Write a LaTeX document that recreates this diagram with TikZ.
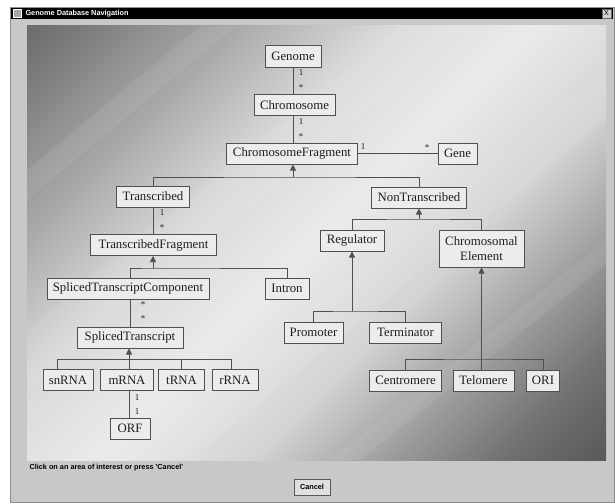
\documentclass[tikz,border=0pt]{standalone}
\usepackage{fontspec}
\setmainfont{Liberation Serif}
\setsansfont{Liberation Sans}
\usetikzlibrary{positioning,shapes,arrows.meta}

\definecolor{framegray}{HTML}{C8C8C8}
\definecolor{boxline}{HTML}{505050}
\definecolor{boxfill}{HTML}{ECECEC}
\definecolor{boxtext}{HTML}{1E1E1E}

\newcommand{\clsfont}{\fontsize{12.8}{15}\selectfont}
\newcommand{\multfont}{\fontsize{9}{10}\selectfont}
\newcommand{\uifont}{\sffamily\bfseries\fontsize{7.3}{9}\selectfont}

% brushed panel, dark corners top left and bottom right
\pgfdeclareverticalshading{brushed}{100bp}{color(0bp)=(black!65); color(14.6bp)=(black!65);
	color(21.7bp)=(black!56); color(30.5bp)=(black!37); color(39.4bp)=(black!17);
	color(50bp)=(black!8); color(60.6bp)=(black!15); color(71bp)=(black!34);
	color(85.4bp)=(black!58); color(100bp)=(black!58)}

\begin{document}
\begin{tikzpicture}[x=1pt,y=-1pt,
		cls/.style={draw=boxline,fill=boxfill,text=boxtext,font=\clsfont,line width=1pt,inner sep=0pt,minimum height=21pt,align=center},
		mult/.style={font=\multfont,text=boxtext,inner sep=0pt},
		link/.style={draw=boxline,line width=.9pt},
		isa/.style={link,-{Triangle[width=6pt,length=6pt]}},
		streak/.style={white,opacity=.07},
		btn/.style={draw=black!65,fill=black!12,font=\uifont,minimum width=36pt,minimum height=16pt,inner sep=0pt}]
			\useasboundingbox (0,0) rectangle (615,503);

			% window
			\fill[framegray,draw=black!45] (10,7) rectangle (614,502);
			\fill[black] (11,8) rectangle (613,19);
			\node[draw=white,fill=black!35,minimum size=8pt,inner sep=0pt] (icon) at (17,13.5) {};
			\node[anchor=west,text=white,font=\uifont] (title) at (22,13.5) {Genome Database Navigation};
			\node[draw=black!60,fill=black!18,minimum size=9pt,inner sep=0pt,font=\sffamily\fontsize{7}{8}\selectfont] (close) at (606.5,13.5) {X};
			\shade[shading=brushed,shading angle=45] (27,26) rectangle (606,460);
			\begin{scope}
				\clip (27,26) rectangle (606,460);
				\fill[streak] (27,330) -- (400,26) -- (470,26) -- (27,390) -- cycle;
				\fill[streak] (120,460) -- (606,70) -- (606,120) -- (190,460) -- cycle;
				\fill[streak] (330,460) -- (606,240) -- (606,265) -- (360,460) -- cycle;
				\fill[streak] (27,170) -- (200,26) -- (235,26) -- (27,200) -- cycle;
			\end{scope}

			% classes
			\node[cls,minimum width=56pt] (Genome) at (293,56.5) {Genome};
			\node[cls,minimum width=81pt] (Chrom) at (294.5,105) {Chromosome};
			\node[cls,minimum width=131pt] (ChromFrag) at (292,153.5) {ChromosomeFragment};
			\node[cls,minimum width=39pt] (Gene) at (457.5,153.5) {Gene};
			\node[cls,minimum width=73pt] (Transcr) at (153,196.5) {Transcribed};
			\node[cls,minimum width=95pt] (NonTranscr) at (419,197.5) {NonTranscribed};
			\node[cls,minimum width=126pt] (TranscrFrag) at (153.5,245) {TranscribedFragment};
			\node[cls,minimum width=64pt] (Regulator) at (352,240.5) {Regulator};
			\node[cls,minimum width=85pt,minimum height=37pt] (ChromElem) at (481.5,248.5) {Chromosomal\\Element};
			\node[cls,minimum width=162pt] (SplTrComp) at (128,288.5) {SplicedTranscriptComponent};
			\node[cls,minimum width=44pt] (Intron) at (287,288.5) {Intron};
			\node[cls,minimum width=59pt] (Promoter) at (313.5,332.5) {Promoter};
			\node[cls,minimum width=72pt] (Terminator) at (405.5,332.5) {Terminator};
			\node[cls,minimum width=106pt] (SplTr) at (130,337.5) {SplicedTranscript};
			\node[cls,minimum width=50pt] (snRNA) at (68,380) {snRNA};
			\node[cls,minimum width=53pt] (mRNA) at (127,380) {mRNA};
			\node[cls,minimum width=46pt] (tRNA) at (181.5,380) {tRNA};
			\node[cls,minimum width=46pt] (rRNA) at (235,380) {rRNA};
			\node[cls,minimum width=72pt] (Centromere) at (405.5,380.5) {Centromere};
			\node[cls,minimum width=61pt] (Telomere) at (483.5,380.5) {Telomere};
			\node[cls,minimum width=33pt] (ORI) at (543,380.5) {ORI};
			\node[cls,minimum width=40pt] (ORF) at (130,428.5) {ORF};

			% associations
			\draw[link] (Genome.south) -- (Genome.south |- Chrom.north);
			\draw[link] (Genome.south |- Chrom.south) -- (Genome.south |- ChromFrag.north);
			\draw[link] (ChromFrag.east) -- (Gene.west);
			\draw[link] (Transcr.south) -- (Transcr.south |- TranscrFrag.north);
			\draw[link] (SplTr.north |- SplTrComp.south) -- (SplTr.north);
			\node[mult] (mGa) at (301,73) {1};
			\node[mult] (mGb) at (301,88) {*};
			\node[mult] (mCa) at (301,122) {1};
			\node[mult] (mCb) at (301,137) {*};
			\node[mult] (mFa) at (363,147) {1};
			\node[mult] (mFb) at (427,148) {*};
			\node[mult] (mTa) at (162,213) {1};
			\node[mult] (mTb) at (162,228) {*};
			\node[mult] (mSa) at (143,305) {*};
			\node[mult] (mSb) at (143,319) {*};
			\node[mult] (mRa) at (137,398) {1};
			\node[mult] (mRb) at (137,412) {1};

			% generalisations
			\coordinate (jCF) at (293,177);
			\draw[isa] (jCF) -- (jCF |- ChromFrag.south);
			\draw[link] (Transcr.north) |- (jCF) -| (NonTranscr.north);
			\coordinate (jTF) at (153,268);
			\draw[isa] (jTF) -- (jTF |- TranscrFrag.south);
			\draw[link] (SplTr.north |- SplTrComp.north) |- (jTF) -| (Intron.north);
			\coordinate (jST) at (129,359);
			\draw[isa] (jST) -- (jST |- SplTr.south);
			\draw[link] ([xshift=-11pt]snRNA.north) |- ([xshift=-4pt]rRNA.north |- jST) -- ([xshift=-4pt]rRNA.north);
			\draw[link] (jST) -- (jST |- mRNA.north);
			\draw[link] (tRNA.north) -- (tRNA.north |- jST);
			\draw[link] (jST |- mRNA.south) -- (jST |- ORF.north);
			\coordinate (jNT) at (419,219);
			\draw[isa] (jNT) -- (jNT |- NonTranscr.south);
			\draw[link] (Regulator.north) |- (jNT) -| (ChromElem.north);
			\coordinate (jReg) at (352,311);
			\draw[isa] (jReg) -- (Regulator.south);
			\draw[link] (Promoter.north) |- (jReg) -| (Terminator.north);
			\coordinate (jCE) at (481.5,359);
			\draw[isa] (jCE) -- (ChromElem.south);
			\draw[link] (Centromere.north) |- (jCE) -| (ORI.north);
			\draw[link] (jCE) -- (jCE |- Telomere.north);

			% bottom of the window
			\node[anchor=west,font=\uifont] (hint) at (26,468) {Click on an area of interest or press \textquotesingle Cancel\textquotesingle};
			\node[btn] (cancel) at (312,487) {Cancel};
		\end{tikzpicture}
\end{document}
